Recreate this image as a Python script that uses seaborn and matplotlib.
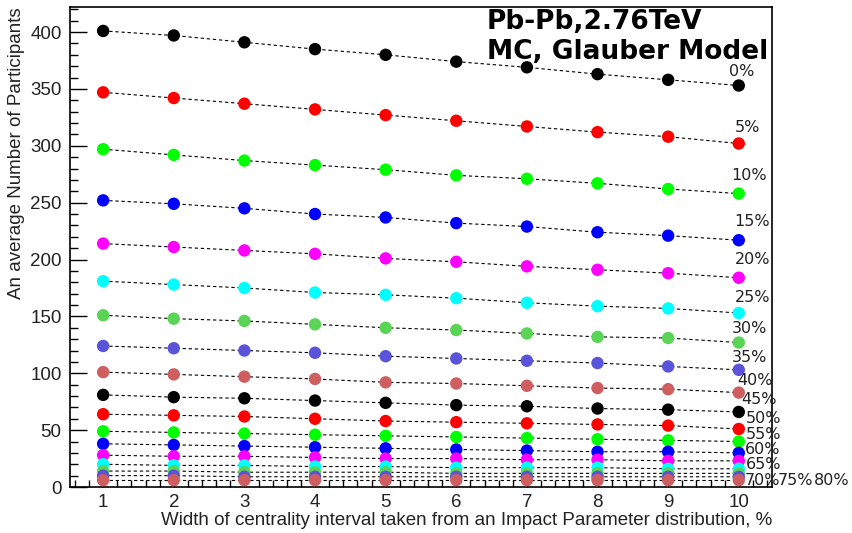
import numpy as np
import pandas as pd
import matplotlib
matplotlib.use("Agg")
import matplotlib.pyplot as plt
import seaborn as sns
from matplotlib.ticker import MultipleLocator

# ---- data ----
widths = [1, 2, 3, 4, 5, 6, 7, 8, 9, 10]
centralities = ["0%", "5%", "10%", "15%", "20%", "25%", "30%", "35%", "40%",
                "45%", "50%", "55%", "60%", "65%", "70%", "75%", "80%", "85%"]
n0 = [401, 397, 391, 385, 380, 374, 369, 363, 358, 353]
n5 = [347, 342, 337, 332, 327, 322, 317, 312, 308, 302]
n10 = [297, 292, 287, 283, 279, 274, 271, 267, 262, 258]
n15 = [252, 249, 245, 240, 237, 232, 229, 224, 221, 217]
n20 = [214, 211, 208, 205, 201, 198, 194, 191, 188, 184]
n25 = [181, 178, 175, 171, 169, 166, 162, 159, 157, 153]
n30 = [151, 148, 146, 143, 140, 138, 135, 132, 131, 127]
n35 = [124, 122, 120, 118, 115, 113, 111, 109, 106, 103]
n40 = [101, 99, 97, 95, 92, 91, 89, 87, 86, 83]
n45 = [81, 79, 78, 76, 74, 72, 71, 69, 68, 66]
n50 = [64, 63, 62, 60, 58, 57, 56, 55, 54, 51]
n55 = [49, 48, 47, 46, 45, 44, 43, 42, 41, 40]
n60 = [38, 37, 36, 35, 34, 33, 32, 31, 31, 30]
n65 = [28, 27, 27, 26, 25, 25, 24, 24, 23, 23]
n70 = [20, 19, 19, 18, 18, 17, 17, 17, 16, 16]
n75 = [14, 14, 13, 13, 13, 12, 12, 12, 12, 12]
n80 = [10, 10, 9, 9, 9, 9, 9, 9, 9, 9]
n85 = [6, 6, 6, 6, 6, 6, 6, 6, 6, 6]
series = [n0, n5, n10, n15, n20, n25, n30, n35, n40, n45, n50, n55, n60,
          n65, n70, n75, n80, n85]

labels = ["0%", "5%", "10%", "15%", "20%", "25%", "30%", "35%", "40%",
          "45%", "50%", "55%", "60%", "65%", "70%", "75%", "80%"]
label_x = [9.86, 9.94, 9.89, 9.94, 9.95, 9.94, 9.90, 9.90, 9.98,
           10.04, 10.10, 10.10, 10.08, 10.10, 10.08, 10.55, 11.07]
label_y = [365, 316, 274, 233, 200, 167, 139, 114, 94,
           77, 60, 46.5, 33, 19.5, 5.5, 5.5, 5.5]

# ROOT colours 1,2,3,4,6,7,8,9,46 cycled
root_cols = ["#000000", "#ff0000", "#00ff00", "#0000ff", "#ff00ff",
             "#00ffff", "#59d454", "#5954d9", "#cf5e61"]
palette = {c: root_cols[i % len(root_cols)] for i, c in enumerate(centralities)}

rows = []
for c, vals in zip(centralities, series):
    for w, v in zip(widths, vals):
        rows.append({"width": w, "npart": v, "cent": c})
df = pd.DataFrame(rows)

# ---- figure ----
sns.set_style("white")
plt.rcParams["font.family"] = ["Liberation Sans", "DejaVu Sans"]

fig = plt.figure(figsize=(8.53, 5.33), dpi=100)
ax = fig.add_axes([0.082, 0.0863, 0.823, 0.9005])

sns.lineplot(data=df, x="width", y="npart", units="cent", estimator=None,
             color="black", linewidth=0.8, linestyle=(0, (3, 2.5)),
             ax=ax, legend=False, zorder=2)
sns.scatterplot(data=df, x="width", y="npart", hue="cent", palette=palette,
                s=80, edgecolor="none", ax=ax, legend=False, zorder=3)

ax.set_xlim(0.53, 10.47)
ax.set_ylim(0, 422)
ax.xaxis.set_major_locator(MultipleLocator(1))
ax.xaxis.set_minor_locator(MultipleLocator(0.2))
ax.yaxis.set_major_locator(MultipleLocator(50))
ax.yaxis.set_minor_locator(MultipleLocator(10))
ax.tick_params(bottom=True, left=True, top=False, right=False, which="both")
ax.tick_params(axis="both", which="major", direction="in", length=12,
               width=1, labelsize=13.5, color="black", labelcolor="#222222")
ax.tick_params(axis="both", which="minor", direction="in", length=6,
               width=1, color="black")
ax.tick_params(axis="x", which="major", length=10, pad=5)
ax.tick_params(axis="x", which="minor", length=5)
ax.tick_params(axis="y", which="major", pad=6)
for sp in ax.spines.values():
    sp.set_color("black")
    sp.set_linewidth(1.2)

ax.set_xlabel("Width of centrality interval taken from an Impact Parameter distribution, %",
              fontsize=13.5, labelpad=1, color="#222222", loc="right")
ax.set_ylabel("An average Number of Participants", fontsize=13.5,
              labelpad=4, color="#222222", loc="top")

for lab, lx, ly in zip(labels, label_x, label_y):
    ax.text(lx, ly, lab, fontsize=11.5, family="DejaVu Sans",
            ha="left", va="center", color="#222222", clip_on=False)

ax.text(6.43, 420, "Pb-Pb,2.76TeV", fontsize=19, fontweight="bold",
        family="DejaVu Sans", ha="left", va="top", color="black")
ax.text(6.43, 394, "MC, Glauber Model", fontsize=19, fontweight="bold",
        family="DejaVu Sans", ha="left", va="top", color="black")

fig.savefig("out.png", dpi=100)
